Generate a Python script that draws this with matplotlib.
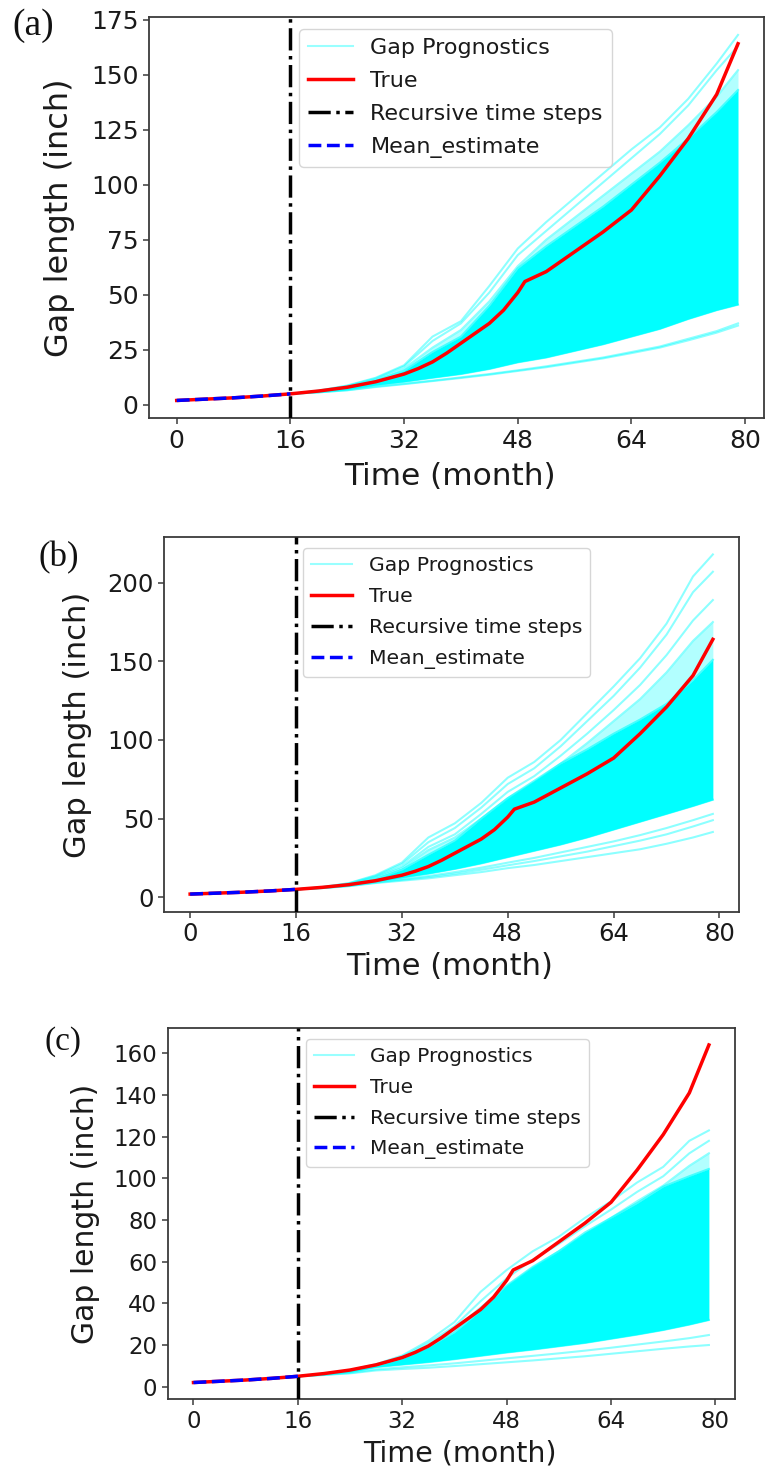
import matplotlib
matplotlib.use("Agg")
import matplotlib.pyplot as plt
from matplotlib.lines import Line2D

# ---------------- data ----------------
T_TRUE = [0, 4, 8, 12, 16, 20, 24, 28, 32, 34, 36, 38, 40, 42, 44, 46, 48, 49,
          52, 56, 60, 64, 68, 72, 76, 79]
TRUE_V = [2.0, 2.6, 3.2, 4.0, 5.0, 6.3, 8.0, 10.5, 14.0, 16.5, 19.5, 23.5, 28.0,
          32.5, 37.0, 43.0, 51.0, 56.0, 60.5, 69.5, 78.5, 88.5, 104.0, 121.0,
          141.0, 164.0]

T_MEAN = [0, 4, 8, 12, 16]
MEAN_V = [2.0, 2.6, 3.2, 4.0, 5.0]

T_FAN = [16, 20, 24, 28, 32, 36, 40, 44, 48, 52, 56, 60, 64, 68, 72, 76, 79]

# panel (a)
A_UP1 = [5, 6.5, 8.8, 12.3, 18, 31, 38, 54, 71, 83, 94, 105, 116, 126, 139, 155, 168]
A_UP2 = [5, 6.4, 8.6, 12, 17.5, 29, 37, 51, 68, 79, 90, 101, 112, 123, 136, 152, 163]
A_UP3 = [5, 6.3, 8.4, 11.5, 16.5, 26, 34, 47, 63, 75, 85, 95, 105, 115, 127, 140, 152]
A_CORE_TOP = [5, 6.2, 8.2, 11, 15.5, 24, 31, 45, 62, 72, 81, 90, 100, 110, 121, 133, 143]
A_CORE_BOT = [5, 5.8, 7, 9, 10.5, 12.3, 14, 16.3, 19.3, 21.5, 24.5, 27.5, 31, 34.5, 39, 43, 45.5]
A_LOW1 = [5, 5.7, 6.7, 8.3, 9.6, 11, 12.5, 14, 15.7, 17.5, 19.5, 21.5, 24, 26.5, 30, 33.5, 37]
A_LOW2 = [5, 5.7, 6.6, 8.1, 9.4, 10.8, 12.2, 13.7, 15.4, 17.1, 19.1, 21.1, 23.5, 26, 29.3, 32.8, 36]

# panel (b)
B_UP1 = [5, 6.5, 9, 14, 22, 38, 47, 60, 76, 86, 100, 117, 134, 152, 174, 204, 218]
B_UP2 = [5, 6.4, 8.8, 13.5, 21, 35, 44, 57, 72, 82, 96, 112, 128, 146, 167, 194, 207]
B_UP3 = [5, 6.3, 8.5, 13, 19.5, 32, 40, 53, 67, 77, 90, 104, 119, 135, 154, 176, 189]
B_UP4 = [5, 6.2, 8.3, 12.5, 18.5, 30, 38, 50, 63, 73, 85, 98, 112, 126, 143, 163, 175]
B_CORE_TOP = [5, 6.1, 8, 11.5, 17.5, 27, 36, 50, 63, 74, 85, 94, 104, 113, 123, 138, 151]
B_CORE_BOT = [5, 6, 7.5, 10, 12.5, 15, 18, 21.5, 25.5, 29.5, 33.5, 38, 43, 48, 53, 58, 62]
B_LOW1 = [5, 5.8, 7, 9, 10.5, 12, 14, 16, 18.5, 20.5, 23, 25.5, 28, 30.5, 34, 38, 41.5]
B_LOW2 = [5, 5.9, 7.2, 9.3, 11, 12.8, 15, 17.5, 20.3, 23, 26, 29, 32.5, 36, 40, 45, 49]
B_LOW3 = [5, 5.9, 7.3, 9.5, 11.5, 13.5, 16, 18.8, 22, 25, 28.5, 32, 35.5, 39.5, 44, 49, 53]

# panel (c)
C_UP1 = [5, 6.3, 8, 10.8, 15, 22, 31, 45.5, 56, 65, 72, 81, 89, 98, 105.5, 118, 123]
C_UP2 = [5, 6.2, 7.9, 10.5, 14.5, 21, 29, 41, 52, 61, 68.5, 77, 85, 93.5, 101, 112, 118]
C_UP3 = [5, 6.1, 7.7, 10.2, 14, 20, 27.5, 38, 48, 57, 65, 73, 81, 89, 96.5, 106, 112]
C_CORE_TOP = [5, 6, 7.6, 10, 13.5, 19, 26, 36.5, 48.5, 57.5, 65, 74, 81, 88, 96, 101, 104.5]
C_CORE_BOT = [5, 5.8, 7, 9.4, 10.6, 11.8, 13.2, 14.8, 16.4, 17.8, 19.4, 21, 23, 25, 27.2, 29.8, 32]
C_LOW1 = [5, 5.6, 6.4, 7.8, 8.5, 9.1, 9.9, 10.8, 11.7, 12.6, 13.6, 14.6, 15.8, 17, 18.2, 19.3, 20]
C_LOW2 = [5, 5.7, 6.6, 8.3, 9.3, 10.2, 11.2, 12.4, 13.6, 14.8, 16, 17.3, 18.7, 20.2, 21.7, 23.3, 24.8]

X_TICKS = [0, 16, 32, 48, 64, 80]
A_YTICKS = [0, 25, 50, 75, 100, 125, 150, 175]
B_YTICKS = [0, 50, 100, 150, 200]
C_YTICKS = [0, 20, 40, 60, 80, 100, 120, 140, 160]

LEGEND_LABELS = ["Gap Prognostics", "True", "Recursive time steps", "Mean_estimate"]

# ---------------- figure ----------------
W, H = 765, 1473
fig = plt.figure(figsize=(W / 100, H / 100), dpi=100)
TXT = "#1a1a1a"
SPINE = "#3a3a3a"


def px_rect(left, top, right, bottom):
    return [left / W, 1 - bottom / H, (right - left) / W, (bottom - top) / H]


def panel(rect, lines, halo_top, core_top, core_bot, xlim, ylim, yticks, tick_fs,
          xlab_fs, ylab_fs, leg_fs, leg_px, ylab_x, xlab_xy, tag, tag_px, tag_fs):
    ax = fig.add_axes(rect)
    ax.fill_between(T_FAN, core_top, halo_top, color="cyan", alpha=0.3, lw=0,
                    zorder=1)
    for ln in lines:
        ax.plot(T_FAN, ln, color="cyan", alpha=0.45, lw=1.5, zorder=2)
    ax.fill_between(T_FAN, core_bot, core_top, color="cyan", lw=0, zorder=2)
    ax.plot(T_FAN, core_top, color="cyan", alpha=0.6, lw=1.5, zorder=2)
    ax.plot(T_FAN, core_bot, color="cyan", alpha=0.6, lw=1.5, zorder=2)
    ax.plot(T_TRUE, TRUE_V, color="red", lw=2.5, zorder=4)
    ax.axvline(16, color="black", ls="-.", lw=2.5, zorder=5)
    ax.plot(T_MEAN, MEAN_V, color="blue", ls="--", lw=2.5, zorder=6)

    ax.set_xlim(*xlim)
    ax.set_ylim(*ylim)
    ax.set_xticks(X_TICKS)
    ax.set_yticks(yticks)
    ax.tick_params(labelsize=tick_fs, colors=SPINE, labelcolor=TXT, length=4,
                   width=1.1)
    for s in ax.spines.values():
        s.set_color(SPINE)
        s.set_linewidth(1.3)
    ax.set_xlabel("Time (month)", fontsize=xlab_fs, color=TXT)
    ax.set_ylabel("Gap length (inch)", fontsize=ylab_fs, color=TXT)
    ax.yaxis.set_label_coords(ylab_x, 0.5)
    ax.xaxis.set_label_coords(*xlab_xy)

    handles = [
        Line2D([], [], color="cyan", alpha=0.4, lw=1.5),
        Line2D([], [], color="red", lw=2.5),
        Line2D([], [], color="black", ls="-.", lw=2.5),
        Line2D([], [], color="blue", ls="--", lw=2.5),
    ]
    leg = ax.legend(handles, LEGEND_LABELS, loc="upper left",
                    bbox_to_anchor=(leg_px[0] / W, 1 - leg_px[1] / H),
                    bbox_transform=fig.transFigure, borderaxespad=0,
                    fontsize=leg_fs, labelspacing=0.58, framealpha=0.8)
    for t in leg.get_texts():
        t.set_color(TXT)
    fig.text(tag_px[0] / W, 1 - tag_px[1] / H, tag, family="Liberation Serif",
             fontsize=tag_fs, ha="left", va="center", color="#111111")
    return ax


panel(px_rect(149, 17.3, 764.3, 418.3),
      [A_UP1, A_UP2, A_UP3, A_LOW1, A_LOW2], A_UP3, A_CORE_TOP, A_CORE_BOT,
      (-3.9, 82.7), (-6.1, 176.0), A_YTICKS, 18, 22.5, 23, 16,
      (299.3, 29.3), -0.1205, (0.489, -0.108), "(a)", (12, 25.5), 27)

panel(px_rect(164, 537.3, 739, 911.7),
      [B_UP1, B_UP2, B_UP3, B_UP4, B_LOW1, B_LOW2, B_LOW3], B_UP4, B_CORE_TOP,
      B_CORE_BOT,
      (-3.95, 82.95), (-9.2, 228.9), B_YTICKS, 17.5, 22, 22, 14.7,
      (303.3, 548.3), -0.1257, (0.497, -0.108), "(b)", (39, 558), 25)

panel(px_rect(167.7, 1028.3, 735, 1399.3),
      [C_UP1, C_UP2, C_UP3, C_LOW1, C_LOW2], C_UP3, C_CORE_TOP, C_CORE_BOT,
      (-3.95, 83.0), (-6.05, 172.0), C_YTICKS, 16.5, 20.5, 21.5, 14.5,
      (305.7, 1039.3), -0.119, (0.515, -0.108), "(c)", (44, 1042), 24)

fig.savefig("out.png", dpi=100)
